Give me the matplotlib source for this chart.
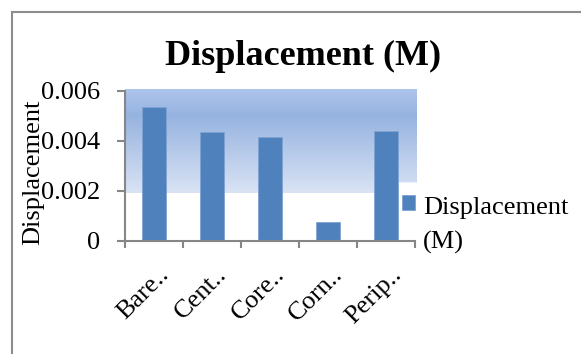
import numpy as np
import matplotlib
matplotlib.use('Agg')
import matplotlib.pyplot as plt
import matplotlib.transforms as mtransforms
from matplotlib.colors import to_rgb
from matplotlib.patches import Rectangle
from matplotlib.legend_handler import HandlerPatch

categories = ['Bare..', 'Cent..', 'Core..', 'Corn..', 'Perip..']
values = [0.00536, 0.00434, 0.00415, 0.00076, 0.00438]
yticks = [0, 0.002, 0.004, 0.006]
ytick_labels = ['0', '0.002', '0.004', '0.006']
series_name = 'Displacement\n(M)'

BAR = '#4f81bd'
AXIS = '#868686'
FS = 19
LINESP = 1.65

plt.rcParams['font.family'] = ['Liberation Serif', 'DejaVu Serif']

fig = plt.figure(figsize=(5.81, 3.54), dpi=100)
ax = fig.add_axes([125 / 581, 1 - 240.7 / 354, 290 / 581, 150 / 354])

# gradient band behind the bars (plot area fill)
stops = [(0.0, '#aec5eb'), (0.25, '#96b3e0'), (1.0, '#d9e3f4')]
nrow, ncol = 200, 500
f = np.linspace(0, 1, nrow)
img = np.ones((nrow, ncol, 4))
for c in range(3):
    img[:, :, c] = np.interp(f, [s[0] for s in stops], [to_rgb(s[1])[c] for s in stops])[:, None]
x0, x1, y0, y1 = -0.5, 4.53, 0.00191, 0.00607
xs = np.linspace(x0, x1, ncol)
ys = np.linspace(y1, y0, nrow)
img[(ys[:, None] < 0.00231) & (xs[None, :] > 3.81)] = [1, 1, 1, 0]
ax.imshow(img, extent=[x0, x1, y0, y1], aspect='auto', zorder=0, clip_on=False,
          interpolation='bilinear')

x = np.arange(len(categories))
bars = ax.bar(x, values, width=0.41, color=BAR, edgecolor='#7ea3d3', linewidth=0.6,
              zorder=2)

ax.set_xlim(-0.5, 4.5)
ax.set_ylim(0, 0.006)
ax.set_facecolor('none')

for s in ['top', 'right']:
    ax.spines[s].set_visible(False)
for s in ['left', 'bottom']:
    ax.spines[s].set_color(AXIS)
    ax.spines[s].set_linewidth(1.5)
    ax.spines[s].set_zorder(3)

ax.set_yticks(yticks)
ax.set_yticklabels(ytick_labels)
ax.tick_params(axis='y', direction='out', length=6, width=1.5, color=AXIS,
               labelsize=FS, pad=12)

ax.set_xticks(x)
ax.set_xticklabels(categories, rotation=45, ha='right', va='baseline',
                   rotation_mode='anchor', fontsize=FS)
ax.set_xticks(np.arange(-0.5, 5, 1), minor=True)
ax.tick_params(axis='x', which='major', length=0, pad=0)
ax.tick_params(axis='x', which='minor', direction='out', length=5, width=1.5, color=AXIS)
shift = mtransforms.ScaledTranslation(16 / 100, -35 / 100, fig.dpi_scale_trans)
for lab in ax.get_xticklabels():
    lab.set_transform(lab.get_transform() + shift)

ax.set_ylabel('Displacement', fontsize=FS)
ax.yaxis.set_label_coords(-0.279, 0.458)

fig.text(303 / 581, 1 - 65 / 354, 'Displacement (M)', ha='center', va='baseline',
         fontsize=26, fontweight='bold')


# legend square sits beside the first line of the two-line label
def square(legend, orig_handle, xdescent, ydescent, width, height, fontsize):
    return Rectangle((-xdescent, -ydescent + 16), width, height)


leg = ax.legend([bars.patches[0]], [series_name], loc='upper left',
                bbox_to_anchor=(402 / 581, 1 - 197 / 354),
                bbox_transform=fig.transFigure, frameon=False, fontsize=FS,
                handlelength=0.5, handleheight=0.5, handletextpad=0.3,
                borderpad=0, borderaxespad=0, labelspacing=0,
                handler_map={Rectangle: HandlerPatch(patch_func=square)})
for t in leg.get_texts():
    t.set_linespacing(LINESP)

# chart outer border
fig.patches.append(Rectangle((12 / 581, -0.2), 1.2, 1.2 - 12 / 354,
                             transform=fig.transFigure, fill=False,
                             edgecolor='#8c8c8c', linewidth=1.5))

fig.savefig('out.png', dpi=100)
